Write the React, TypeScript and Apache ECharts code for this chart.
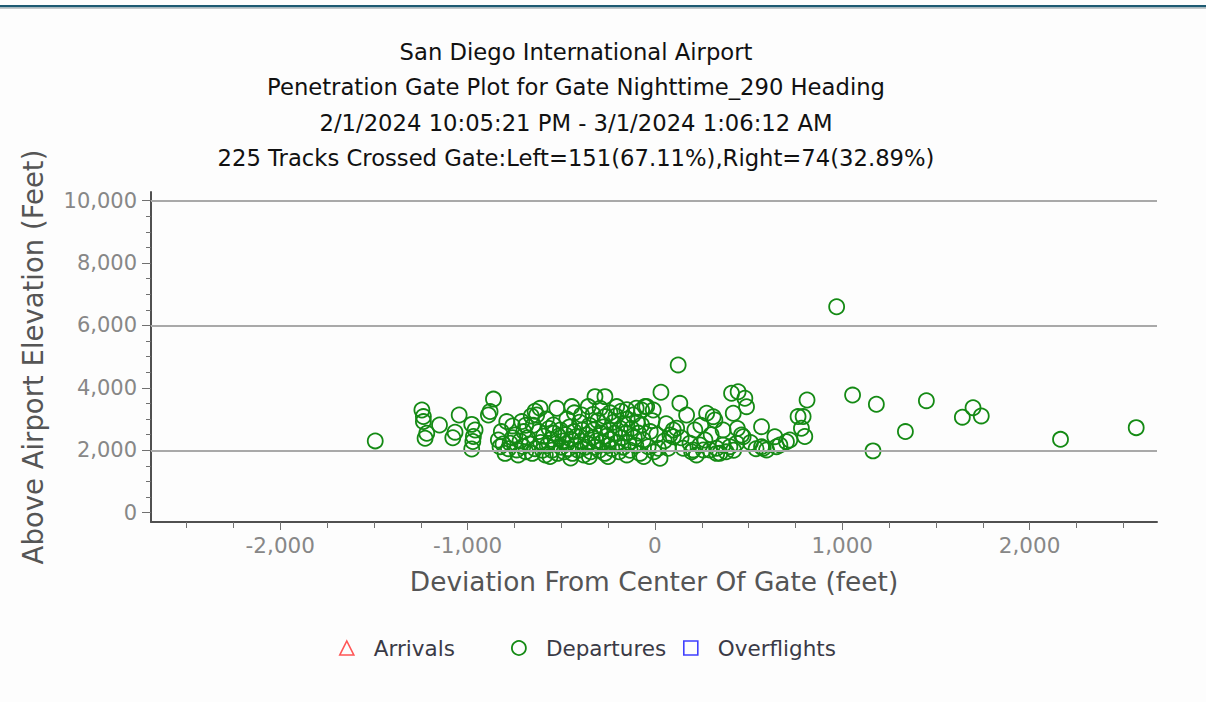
import React, { useEffect, useRef } from "react";
import * as echarts from "echarts";

const titleLines = [
  "San Diego International Airport",
  "Penetration Gate Plot for Gate Nighttime_290 Heading",
  "2/1/2024 10:05:21 PM - 3/1/2024 1:06:12 AM",
  "225 Tracks Crossed Gate:Left=151(67.11%),Right=74(32.89%)",
];

const xLabelValues = [-2000, -1000, 0, 1000, 2000];
const xMinorValues = [-2500, -2250, -1750, -1500, -1250, -750, -500, -250, 250, 500, 750, 1250, 1500, 1750, 2250, 2500];
const yLabelValues = [0, 2000, 4000, 6000, 8000, 10000];
const yMinorValues = [500, 1000, 1500, 2500, 3000, 3500, 4500, 5000, 5500, 6500, 7000, 7500, 8500, 9000, 9500];
const gridValues = [2000, 6000, 10000];

const arrivals: number[][] = [];
const overflights: number[][] = [];

// Departures crossing left of gate center (deviation ft, elevation ft)
const departuresLeft: number[][] = [
  [-1493, 2300], [-1244, 3290], [-1236, 3080], [-1236, 2920], [-1218, 2545], [-1227, 2385],
  [-1150, 2810], [-1045, 3130], [-1067, 2580], [-1079, 2400], [-978, 2830], [-960, 2650],
  [-969, 2440], [-972, 2280], [-978, 2040], [-862, 3640], [-880, 3240], [-889, 3130],
  [-836, 2330], [-791, 2920], [-827, 2115], [-800, 1900], [-773, 2225], [-747, 2490],
  [-738, 2010], [-811, 2200], [-782, 2050], [-760, 2780], [-711, 2920], [-720, 2300],
  [-705, 2120], [-690, 1950], [-700, 2600], [-680, 2400], [-760, 2400], [-820, 2600],
  [-670, 2200], [-650, 2800], [-655, 1900], [-640, 2050], [-631, 3130], [-613, 3345],
  [-542, 2810], [-524, 3345], [-444, 3400], [-391, 3130], [-356, 3400], [-320, 3720],
  [-293, 3345], [-267, 3080], [-620, 2600], [-610, 2250], [-600, 2000], [-595, 2450],
  [-585, 1850], [-575, 2150], [-565, 2700], [-555, 2350], [-550, 2000], [-540, 2550],
  [-530, 2200], [-520, 1900], [-515, 2450], [-505, 2650], [-500, 2100], [-492, 2300],
  [-485, 1950], [-478, 2500], [-470, 2200], [-462, 2050], [-455, 2750], [-448, 2350],
  [-440, 1900], [-432, 2600], [-425, 2150], [-418, 2450], [-410, 2000], [-402, 2900],
  [-395, 2300], [-388, 2650], [-380, 1850], [-372, 2100], [-365, 2500], [-358, 2200],
  [-350, 2800], [-342, 1950], [-335, 2400], [-328, 2650], [-320, 2100], [-312, 2300],
  [-305, 2950], [-298, 2000], [-290, 2550], [-282, 2250], [-275, 2750], [-268, 1900],
  [-260, 2450], [-252, 2150], [-245, 2650], [-238, 2350], [-230, 2050], [-222, 2900],
  [-215, 2550], [-208, 3100], [-204, 3400], [-200, 2250], [-192, 1950], [-185, 2700],
  [-178, 2400], [-170, 2100], [-162, 2850], [-155, 2550], [-148, 3000], [-140, 2250],
  [-132, 2000], [-125, 2700], [-116, 3130], [-110, 2400], [-102, 2150], [-95, 2900],
  [-88, 2550], [-80, 1900], [-71, 3290], [-71, 2810], [-62, 2330], [-53, 3400],
  [-44, 3400], [-36, 2115], [-25, 2600], [-15, 2950], [-9, 3290], [-5, 1950],
  [-267, 3720], [-180, 3250], [-690, 2800], [-660, 3100], [-640, 3250], [-580, 3000],
  [-470, 3000], [-430, 3200], [-330, 3150], [-240, 3200], [-150, 3300], [-100, 3350],
  [-560, 1800], [-450, 1750], [-350, 1800], [-250, 1800], [-150, 1850], [-60, 1800],
  [-730, 1850],
];

// Departures crossing right of gate center
const departuresRight: number[][] = [
  [970, 6600], [1055, 3770], [1182, 3475], [1449, 3590], [1337, 2600], [1164, 1980],
  [1641, 3060], [1698, 3365], [1742, 3100], [2165, 2350], [2569, 2725], [812, 3610],
  [800, 2440], [791, 3080], [782, 2705], [764, 3080], [124, 4735], [32, 3860],
  [133, 3505], [169, 3130], [116, 2705], [80, 2490], [213, 2650], [196, 1955],
  [409, 3827], [444, 3878], [480, 3667], [489, 3397], [418, 3186], [276, 3186],
  [311, 3077], [320, 2970], [569, 2756], [569, 2115], [640, 2436], [667, 2170],
  [720, 2330], [471, 2436], [436, 2224], [400, 2115], [364, 2170], [329, 2064],
  [293, 2010], [240, 2170], [204, 2010], [364, 2650], [267, 2330], [222, 1850],
  [596, 2010], [27, 1745], [18, 2064], [98, 2650], [98, 2436], [71, 2064],
  [151, 2064], [187, 2224], [347, 1904], [258, 2010], [578, 2064], [702, 2276],
  [649, 2115], [420, 2000], [462, 2490], [50, 2300], [140, 2400], [300, 2500],
  [380, 1950], [510, 2250], [440, 2700], [60, 2850], [540, 2050], [10, 2500],
  [245, 2800], [330, 1900],
];

const FONT = "'DejaVu Sans', Verdana, sans-serif";
const GREEN = "#148a14";

export default function App() {
  const ref = useRef<HTMLDivElement>(null);

  useEffect(() => {
    if (!ref.current) return;
    const chart = echarts.init(ref.current, null, { renderer: "svg" });
    const clear = "rgba(0,0,0,0)";
    const legendText = { fontFamily: FONT, fontSize: 21.5, color: "#3a3a46", padding: [0, 0, 20, 15] };
    const legendBase = {
      orient: "horizontal",
      top: 637,
      itemWidth: 14,
      itemHeight: 14,
      itemGap: 0,
      selectedMode: false,
      textStyle: legendText,
      padding: 0,
    };
    chart.setOption({
      animation: false,
      backgroundColor: "#fdfdfd",
      textStyle: { fontFamily: FONT },
      title: {
        text: titleLines.join("\n"),
        left: 576,
        textAlign: "center",
        top: 34,
        padding: 0,
        textStyle: {
          fontFamily: FONT,
          fontSize: 22.7,
          fontWeight: "normal",
          color: "#111111",
          lineHeight: 35.4,
        },
      },
      graphic: [
        { type: "rect", left: 0, top: 5, shape: { width: 1206, height: 2.5 }, style: { fill: "#1d5a72" } },
        { type: "rect", left: 0, top: 7.5, shape: { width: 1206, height: 1.5 }, style: { fill: "#c4c8ca" } },
      ],
      legend: [
        { ...legendBase, left: 339, data: [{ name: "Arrivals", itemStyle: { color: clear, borderColor: "#ff2b2b", borderWidth: 1.6 } }] },
        { ...legendBase, left: 511, data: [{ name: "Departures", itemStyle: { color: clear, borderColor: GREEN, borderWidth: 1.8 } }] },
        { ...legendBase, left: 683, data: [{ name: "Overflights", itemStyle: { color: clear, borderColor: "#1010ff", borderWidth: 1.6 } }] },
      ],
      grid: { left: 151, right: 49, top: 192, bottom: 180, containLabel: false },
      xAxis: [
        {
          type: "value",
          min: -2690,
          max: 2680,
          position: "bottom",
          name: "Deviation From Center Of Gate (feet)",
          nameLocation: "middle",
          nameGap: 46,
          nameTextStyle: { fontFamily: FONT, fontSize: 26.4, color: "#555555" },
          axisLine: { show: true, onZero: false, lineStyle: { color: "#505050", width: 2 } },
          axisTick: { show: true, customValues: xLabelValues, length: 8, lineStyle: { color: "#707070", width: 1 } },
          axisLabel: {
            customValues: xLabelValues,
            margin: 12,
            fontFamily: FONT,
            fontSize: 21.5,
            color: "#878787",
            formatter: (v: number) => v.toLocaleString("en-US"),
          },
          splitLine: { show: false },
        },
        {
          type: "value",
          min: -2690,
          max: 2680,
          position: "bottom",
          axisLine: { show: false, onZero: false },
          axisTick: { show: true, customValues: xMinorValues, length: 6, lineStyle: { color: "#707070", width: 1 } },
          axisLabel: { show: false },
          splitLine: { show: false },
        },
      ],
      yAxis: [
        {
          type: "value",
          min: -300,
          max: 10280,
          position: "left",
          name: "Above Airport Elevation (Feet)",
          nameLocation: "middle",
          nameGap: 104,
          nameTextStyle: { fontFamily: FONT, fontSize: 27.5, color: "#555555" },
          axisLine: { show: true, onZero: false, lineStyle: { color: "#505050", width: 2 } },
          axisTick: { show: true, customValues: yLabelValues, length: 9, lineStyle: { color: "#707070", width: 1 } },
          axisLabel: {
            customValues: yLabelValues,
            margin: 14,
            fontFamily: FONT,
            fontSize: 21,
            color: "#878787",
            formatter: (v: number) => v.toLocaleString("en-US"),
          },
          splitLine: { show: false },
        },
        {
          type: "value",
          min: -300,
          max: 10280,
          position: "left",
          axisLine: { show: false, onZero: false },
          axisTick: { show: true, customValues: yMinorValues, length: 5, lineStyle: { color: "#707070", width: 1 } },
          axisLabel: { show: false },
          splitLine: { show: false },
        },
      ],
      series: [
        {
          name: "Arrivals",
          type: "scatter",
          symbol: "triangle",
          symbolSize: 14,
          z: 1,
          itemStyle: { color: clear, borderColor: "#ff2b2b", borderWidth: 1.6 },
          data: arrivals,
          markLine: {
            silent: true,
            symbol: ["none", "none"],
            label: { show: false },
            lineStyle: { color: "#a9a9a9", width: 2, type: "solid" },
            data: gridValues.map((v) => ({ yAxis: v })),
          },
        },
        {
          name: "Departures",
          type: "scatter",
          symbol: "circle",
          symbolSize: 15,
          z: 3,
          itemStyle: { color: clear, borderColor: GREEN, borderWidth: 1.8, opacity: 1 },
          data: [...departuresLeft, ...departuresRight],
        },
        {
          name: "Overflights",
          type: "scatter",
          symbol: "rect",
          symbolSize: 14,
          z: 2,
          itemStyle: { color: clear, borderColor: "#1010ff", borderWidth: 1.6 },
          data: overflights,
        },
      ],
    });
    return () => chart.dispose();
  }, []);

  return (
    <div
      ref={ref}
      style={{ position: "absolute", left: 0, top: 0, width: 1206, height: 702 }}
    />
  );
}
